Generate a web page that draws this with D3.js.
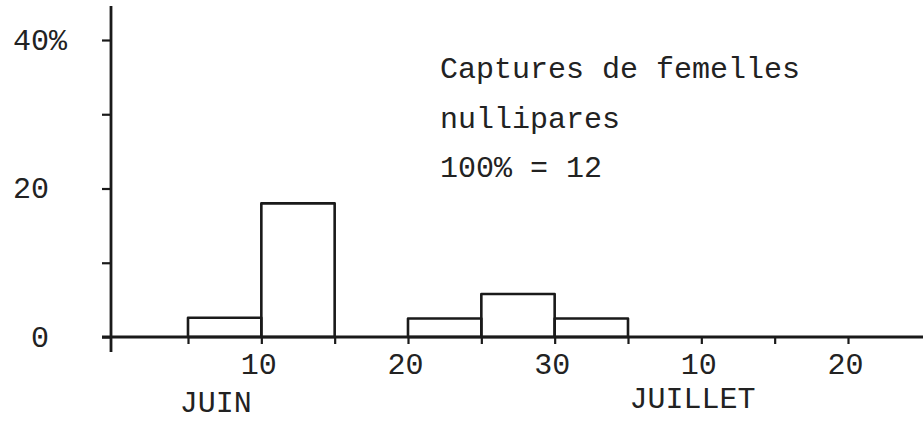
<!DOCTYPE html>
<html lang="fr">
	<head>
		<meta charset="utf-8">
		<title>Captures de femelles nullipares</title>
		<script type="text/javascript" src="https://cdn.jsdelivr.net/npm/d3@7"></script>
		<style type="text/css">
			body { margin: 0; background: #fff; }
			text { font-family: "Liberation Mono", "Courier New", monospace; fill: #222; }
		</style>
	</head>
	<body>
		<script type="text/javascript">

			var w = 923;
			var h = 427;

			// bins, in days from 1 June (July d = 30 + d)
			var binStart = [5, 10, 20, 25, 30];
			var binEnd   = [10, 15, 25, 30, 35];
			var pct      = [2.6, 18, 2.5, 5.8, 2.5];

			var yTicks = [0, 10, 20, 30, 40];
			var yLabels = { 0: "0", 20: "20", 40: "40%" };

			var xTicks = [5, 10, 15, 20, 25, 30, 35, 40, 45, 50];
			var xLabels = { 10: "10", 20: "20", 30: "30", 40: "10", 50: "20" };

			var months = ["JUIN", "JUILLET"];
			var monthDay = [6.9, 39.4];

			var caption = ["Captures de femelles", "nullipares", "100% = 12"];

			var xScale = d3.scaleLinear()
							.domain([5, 50])
							.range([188, 848]);

			var yScale = d3.scaleLinear()
							.domain([0, 40])
							.range([337, 40]);

			var x0 = 111;

			var svg = d3.select("body")
						.append("svg")
						.attr("width", w)
						.attr("height", h);

			//Bars
			svg.selectAll("rect")
			   .data(pct)
			   .enter()
			   .append("rect")
			   .attr("x", function(d, i) { return xScale(binStart[i]); })
			   .attr("y", function(d) { return yScale(d); })
			   .attr("width", function(d, i) { return xScale(binEnd[i]) - xScale(binStart[i]); })
			   .attr("height", function(d) { return yScale(0) - yScale(d); })
			   .attr("fill", "none")
			   .attr("stroke", "#1a1a1a")
			   .attr("stroke-width", 2.6)
			   .attr("stroke-linejoin", "round");

			//X axis
			var xAxis = d3.axisBottom(xScale)
						  .tickValues(xTicks)
						  .tickSize(7)
						  .tickFormat(function(d) { return xLabels[d] || ""; });

			var gx = svg.append("g")
						.attr("transform", "translate(0," + yScale(0) + ")")
						.call(xAxis);
			gx.select(".domain").remove();
			gx.append("line")
			  .attr("x1", x0 - 9).attr("x2", w)
			  .attr("y1", 0).attr("y2", 0)
			  .attr("stroke", "#1a1a1a")
			  .attr("stroke-width", 2.8);
			gx.selectAll(".tick line")
			  .attr("stroke", "#1a1a1a")
			  .attr("stroke-width", 2.2);
			gx.selectAll(".tick text")
			  .attr("y", 37)
			  .attr("dy", null)
			  .attr("dx", -3)
			  .attr("font-size", 30)
			  .attr("font-family", null)
			  .attr("fill", null);

			//Y axis
			var yAxis = d3.axisLeft(yScale)
						  .tickValues(yTicks)
						  .tickSize(9)
						  .tickFormat(function(d) { return yLabels[d] || ""; });

			var gy = svg.append("g")
						.attr("transform", "translate(" + x0 + ",0)")
						.call(yAxis);
			gy.select(".domain").remove();
			gy.append("line")
			  .attr("x1", 0).attr("x2", 0)
			  .attr("y1", 6).attr("y2", 352)
			  .attr("stroke", "#1a1a1a")
			  .attr("stroke-width", 2.8);
			gy.selectAll(".tick line")
			  .attr("stroke", "#1a1a1a")
			  .attr("stroke-width", 2.2);
			gy.selectAll(".tick text")
			  .attr("font-size", 30)
			  .attr("font-family", null)
			  .attr("fill", null)
			  .attr("dy", "0.3em")
			  .attr("text-anchor", "start")
			  .attr("x", function(d) {
			  		var s = String(d);
			  		return 49 - x0 - s.length * 18;
			  });

			//Month labels
			svg.selectAll("text.month")
			   .data(months)
			   .enter()
			   .append("text")
			   .attr("class", "month")
			   .attr("x", function(d, i) { return xScale(monthDay[i]); })
			   .attr("y", function(d, i) { return i === 0 ? 412 : 408; })
			   .attr("text-anchor", "middle")
			   .attr("font-size", 30)
			   .text(function(d) { return d; });

			//Caption
			svg.selectAll("text.caption")
			   .data(caption)
			   .enter()
			   .append("text")
			   .attr("class", "caption")
			   .attr("x", 440)
			   .attr("y", function(d, i) { return 78 + i * 49.5; })
			   .attr("font-size", 30)
			   .text(function(d) { return d; });

		</script>
	</body>
</html>
